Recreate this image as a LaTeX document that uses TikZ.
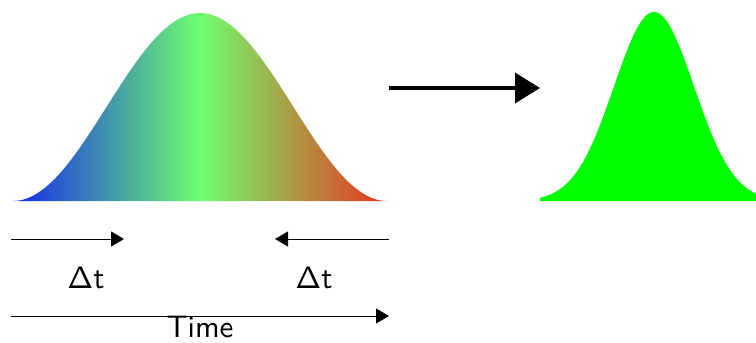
\documentclass[tikz,border=0pt]{standalone}
\usetikzlibrary{arrows.meta}
\definecolor{specblue}{RGB}{20,40,235}
\definecolor{specgreen}{RGB}{110,255,110}
\definecolor{specred}{RGB}{235,50,30}
\definecolor{pulsegreen}{RGB}{0,255,0}
\tikzset{
  thinarrow/.style={-{Triangle[length=13pt,width=15pt]}, line width=1pt},
  bigarrow/.style={-{Triangle[length=25pt,width=30pt]}, line width=4pt},
  biglabel/.style={font=\sffamily, scale=3.1, inner sep=0pt},
}
\begin{document}
\begin{tikzpicture}[x=1pt, y=-1pt]
\useasboundingbox (0,0) rectangle (756,343);
% wide pulse with colour spread
\shade[left color=specblue, right color=specred, middle color=specgreen]
  (13,201) -- plot[domain=13:387, samples=150] (\x, {201-94*(1+cos(0.9626*(\x-200)))}) -- (387,201) -- cycle;
% compressed pulse
\fill[pulsegreen]
  (540,201) -- plot[domain=540:756, samples=150] (\x, {201-189*exp(-((\x-654)/40)*((\x-654)/40)/2)}) -- (756,201) -- cycle;
% compression arrow
\coordinate (convstart) at (389,88);\coordinate (convend) at (540,88);
\draw[bigarrow] (convstart) -- (convend);
% delays
\coordinate (lstart) at (11,239);\coordinate (lend) at (124,239);
\coordinate (rstart) at (389,239);\coordinate (rend) at (275,239);
\draw[thinarrow] (lstart) -- (lend);\draw[thinarrow] (rstart) -- (rend);
\node[biglabel] (dtleft) at (86,277.5) {$\mathsf{\Delta}$t};
\node[biglabel] (dtright) at (314,277.5) {$\mathsf{\Delta}$t};
% time axis
\coordinate (tstart) at (11,316);\coordinate (tend) at (389,316);
\draw[thinarrow] (tstart) -- (tend);
\node[biglabel] (timelabel) at (200,327.5) {Time};
\end{tikzpicture}
\end{document}
